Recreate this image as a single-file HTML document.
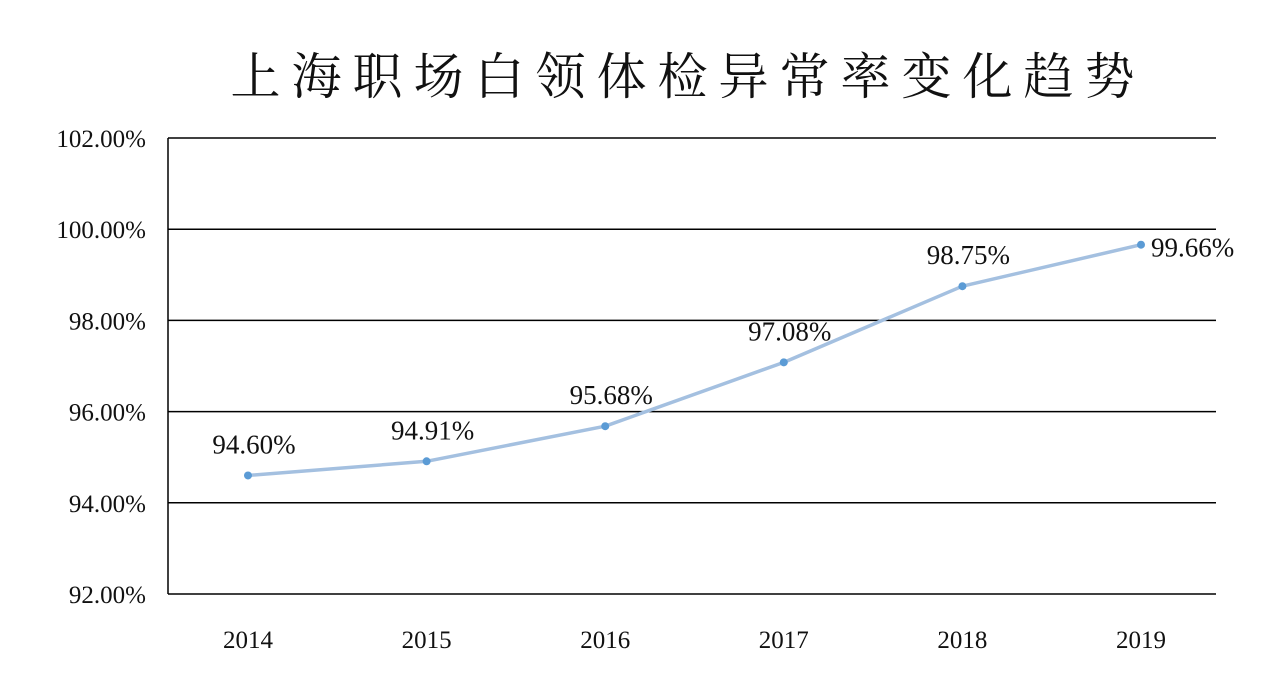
<!DOCTYPE html>
<html><head><meta charset="utf-8"><style>
html,body{margin:0;padding:0;background:#fff;}
svg{display:block;}
</style></head><body>
<svg id="chart" width="1280" height="686" viewBox="0 0 1280 686">
<text x="688" y="94" text-anchor="middle" font-family="Liberation Serif, 'Noto Serif CJK SC', serif" font-size="50" letter-spacing="11" fill="#111">上海职场白领体检异常率变化趋势</text>
<g id="grid"></g>
<g id="yticks"></g>
<g id="xticks"></g>
<g id="series"></g>
</svg>
<script>
const categories = ["2014","2015","2016","2017","2018","2019"];
const values = [94.60, 94.91, 95.68, 97.08, 98.75, 99.66];
const valueLabels = ["94.60%","94.91%","95.68%","97.08%","98.75%","99.66%"];
const yTicks = [92, 94, 96, 98, 100, 102];
const yTickLabels = ["92.00%","94.00%","96.00%","98.00%","100.00%","102.00%"];

const NS = "http://www.w3.org/2000/svg";
const yMin = 92, yMax = 102, plotTop = 138, plotBottom = 594;
const plotLeft = 168, plotRight = 1216;
function yScale(v){ return plotBottom - (v - yMin) / (yMax - yMin) * (plotBottom - plotTop); }
function xScale(i){ return 248 + i * 178.6; }
function mk(tag, attrs, parent){
  const e = document.createElementNS(NS, tag);
  for (const k in attrs) e.setAttribute(k, attrs[k]);
  parent.appendChild(e); return e;
}
const font = "Liberation Serif, 'Noto Serif CJK SC', serif";
const grid = document.getElementById("grid");
const yt = document.getElementById("yticks");
yTicks.forEach((t, i) => {
  const l = mk("line", {x1:plotLeft, x2:plotRight, y1:yScale(t), y2:yScale(t), stroke:"#000", "stroke-width":1.5}, grid);
  
  
  const tx = mk("text", {x:146, y:yScale(t)+9, "text-anchor":"end", "font-family":font, "font-size":25, fill:"#111"}, yt);
  tx.textContent = yTickLabels[i];
  
  
});
const ax = mk("line", {x1:plotLeft, x2:plotLeft, y1:plotTop, y2:plotBottom, stroke:"#000", "stroke-width":1.5}, grid);


const xt = document.getElementById("xticks");
categories.forEach((c, i) => {
  const tx = mk("text", {x:xScale(i), y:648, "text-anchor":"middle", "font-family":font, "font-size":25, fill:"#111"}, xt);
  tx.textContent = c;
  
  
});
const s = document.getElementById("series");
let d = "";
values.forEach((v, i) => { d += (i ? " L" : "M") + xScale(i) + " " + yScale(v); });
const p = mk("path", {d:d, fill:"none", stroke:"#a4c0e0", "stroke-width":3.5, "stroke-linejoin":"round"}, s);


values.forEach((v, i) => {
  const c = mk("circle", {cx:xScale(i), cy:yScale(v), r:4, fill:"#5b9bd5"}, s);
  
  
  const last = i === values.length - 1;
  const tx = mk("text", {x: last ? xScale(i)+10 : xScale(i)+6, y: last ? yScale(v)+12 : yScale(v)-22, "text-anchor": last ? "start" : "middle", "font-family":font, "font-size":27, fill:"#111"}, s);
  tx.textContent = valueLabels[i];
  
  
});
</script>
</body></html>
